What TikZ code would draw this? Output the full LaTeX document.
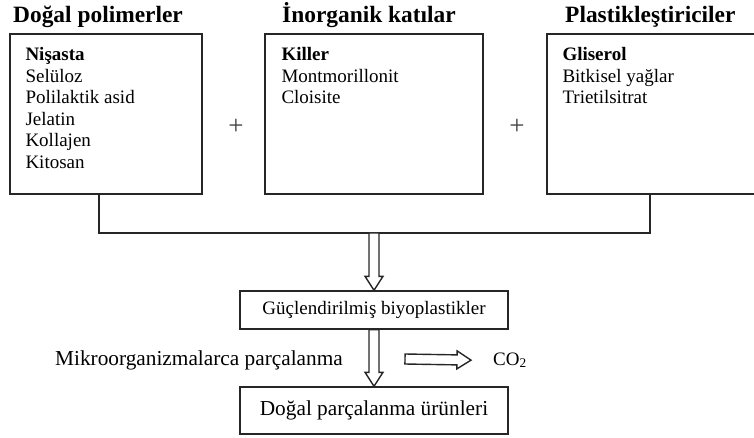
\documentclass[tikz,border=0pt]{standalone}
\usepackage{fontspec}
\setmainfont{Liberation Serif}
\usetikzlibrary{calc, positioning}
\colorlet{linegrey}{black!85!white}
\tikzset{box/.style={draw=linegrey, line width=1.4pt, rectangle, inner sep=0pt}}
\tikzset{title/.style={inner sep=0pt, font=\fontsize{23.4}{27}\selectfont\bfseries}}
\tikzset{list/.style={inner sep=0pt, align=left, font=\fontsize{19}{21.5}\selectfont}}
\tikzset{txt/.style={inner sep=0pt, font=\fontsize{19}{21.5}\selectfont}}
\tikzset{bigtxt/.style={inner sep=0pt, font=\fontsize{21.3}{24}\selectfont}}
\tikzset{plus/.style={inner sep=0pt, text=black!75, font=\fontsize{27}{30}\selectfont}}
\tikzset{edge/.style={draw=linegrey, line width=1.4pt}}
\tikzset{hollow/.style={edge, fill=white, line join=miter, to path={
  ($(\tikztostart)!5pt!90:(\tikztotarget)$)
  -- ($(\tikztotarget)!14pt!(\tikztostart)!5pt!-90:(\tikztostart)$)
  -- ($(\tikztotarget)!14pt!(\tikztostart)!9pt!-90:(\tikztostart)$)
  -- (\tikztotarget)
  -- ($(\tikztotarget)!14pt!(\tikztostart)!9pt!90:(\tikztostart)$)
  -- ($(\tikztotarget)!14pt!(\tikztostart)!5pt!90:(\tikztostart)$)
  -- ($(\tikztostart)!5pt!-90:(\tikztotarget)$) -- cycle}}}

\begin{document}
\begin{tikzpicture}[x=1pt, y=-1pt]
            \useasboundingbox (0, 0) rectangle (754, 438);
            \clip (0, 0) rectangle (754, 438);

            \node [title, anchor=base west] (TPol) at (13, 23) { Doğal polimerler };
            \node [title, anchor=base west] (TIno) at (282, 23) { İnorganik katılar };
            \node [title, anchor=base west] (TPla) at (565, 23) { Plastikleştiriciler };

            \node [box, minimum width=192pt, minimum height=160pt] (Pol) at (106, 114) {};
            \node [box, minimum width=218pt, minimum height=160pt] (Ino) at (374, 114) {};
            \node [box, minimum width=213pt, minimum height=160pt] (Pla) at (653.5, 114) {};

            \node [list, anchor=north west] (LPol) at ([xshift=16pt, yshift=-14pt]Pol.north west)
                { \textbf{Nişasta}\\ Selüloz\\ Polilaktik asid\\ Jelatin\\ Kollajen\\ Kitosan };
            \node [list, anchor=north west] (LIno) at ([xshift=17pt, yshift=-14pt]Ino.north west)
                { \textbf{Killer}\\ Montmorillonit\\ Cloisite };
            \node [list, anchor=north west] (LPla) at ([xshift=16pt, yshift=-14pt]Pla.north west)
                { \textbf{Gliserol}\\ Bitkisel yağlar\\ Trietilsitrat };

            \node [plus] (P1) at (236, 127) { + };
            \node [plus] (P2) at (517, 127) { + };

            \node [box, minimum width=268pt, minimum height=38pt] (Guc) at (374, 310) {};
            \node [txt] at (Guc.center) { Güçlendirilmiş biyoplastikler };
            \node [box, minimum width=268pt, minimum height=47pt] (Dog) at (374, 410.5) {};
            \node [bigtxt] at (Dog.center) { Doğal parçalanma ürünleri };

            \node [bigtxt, anchor=base west] (Mik) at (55, 365) { Mikroorganizmalarca parçalanma };
            \node [txt, anchor=base west] (CO) at (493, 365) { CO\textsubscript{2} };

            \coordinate (J) at (374, 233);
            \coordinate (C0) at (405, 359);

            \draw [edge] ([xshift=-7pt]Pol.south) |- (J) -| ([xshift=-3.5pt]Pla.south);
            \draw [hollow] (J) to (Guc.north);
            \draw [hollow] (Guc.south) to (Dog.north);
            \draw [hollow] (C0) to ($(CO.west) + (-22, 0)$);
        \end{tikzpicture}
\end{document}
